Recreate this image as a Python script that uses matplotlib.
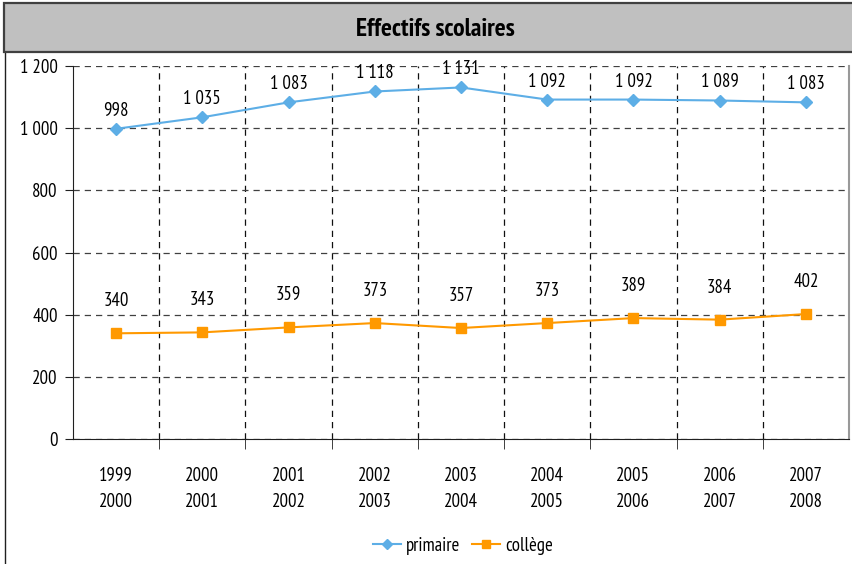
import matplotlib
matplotlib.use("Agg")
import matplotlib.pyplot as plt
from matplotlib.patches import Rectangle

plt.rcParams['font.family'] = ["PT Sans Narrow", "DejaVu Sans"]

categories = ["1999\n2000", "2000\n2001", "2001\n2002", "2002\n2003", "2003\n2004",
              "2004\n2005", "2005\n2006", "2006\n2007", "2007\n2008"]
primaire = [998, 1035, 1083, 1118, 1131, 1092, 1092, 1089, 1083]
college = [340, 343, 359, 373, 357, 373, 389, 384, 402]
yticks = [0, 200, 400, 600, 800, 1000, 1200]
ytick_labels = ["0", "200", "400", "600", "800", "1 000", "1 200"]
title = "Effectifs scolaires"

c_prim = "#5DAEE6"
c_col = "#FF9900"
FS = 13.5

fig = plt.figure(figsize=(8.53, 5.64), dpi=100)
W, H = 853, 564

# outer chart frame
fig.patches.append(Rectangle((5 / W, -0.1), 1.0, 1.05, transform=fig.transFigure,
                             fill=False, edgecolor="#202020", lw=1.0))
# title box
fig.patches.append(Rectangle((4 / W, 1 - 52 / H), 1.0, 49 / H, transform=fig.transFigure,
                             facecolor="#C0C0C0", edgecolor="#404040", lw=1.6))
fig.text(435 / W, 1 - 29 / H, title, ha="center", va="center", fontsize=18.5, fontweight="bold")

ax = fig.add_axes([73 / W, 1 - 439 / H, (849 - 73) / W, (439 - 66) / H])
x = list(range(len(categories)))
ax.plot(x, primaire, color=c_prim, lw=1.5, marker="D", ms=6, label="primaire")
ax.plot(x, college, color=c_col, lw=1.5, marker="s", ms=6.5, label="collège")

for xi, v in zip(x, primaire):
    ax.annotate(f"{v:,}".replace(",", " "), (xi, v), xytext=(0, 13), textcoords="offset points",
                ha="center", va="center", fontsize=FS)
for xi, v in zip(x, college):
    ax.annotate(f"{v:,}".replace(",", " "), (xi, v), xytext=(0, 23), textcoords="offset points",
                ha="center", va="center", fontsize=FS)

ax.set_xlim(-0.5, len(categories) - 0.5)
ax.set_ylim(0, 1200)
ax.set_yticks(yticks)
ax.set_yticklabels(ytick_labels, fontsize=FS)
ax.set_xticks(x)
ax.set_xticklabels(categories, fontsize=FS, linespacing=1.62)
ax.tick_params(axis="x", length=0, pad=20)
ax.set_xticks([i + 0.5 for i in x[:-1]], minor=True)
ax.tick_params(axis="x", which="minor", length=7, direction="out", color="#202020")
ax.tick_params(axis="y", length=6, direction="out", color="#202020", pad=5)

ax.grid(axis="y", which="major", color="#404040", ls=(0, (5, 4)), lw=0.9)
ax.grid(axis="x", which="minor", color="#101010", ls=(0, (5, 4)), lw=0.9)
ax.grid(axis="x", which="major", visible=False)
ax.set_axisbelow(True)

ax.spines["top"].set_visible(False)
ax.spines["right"].set_color("#999999")
ax.spines["right"].set_linewidth(1.5)
ax.spines["left"].set_color("#202020")
ax.spines["bottom"].set_color("#202020")

ax.legend(loc="center", bbox_to_anchor=(463 / W, 1 - 546 / H), bbox_transform=fig.transFigure,
          ncol=2, frameon=False, fontsize=FS, handlelength=1.5, columnspacing=0.6, handletextpad=0.3,
          markerscale=0.9)

fig.savefig("out.png", dpi=100)
